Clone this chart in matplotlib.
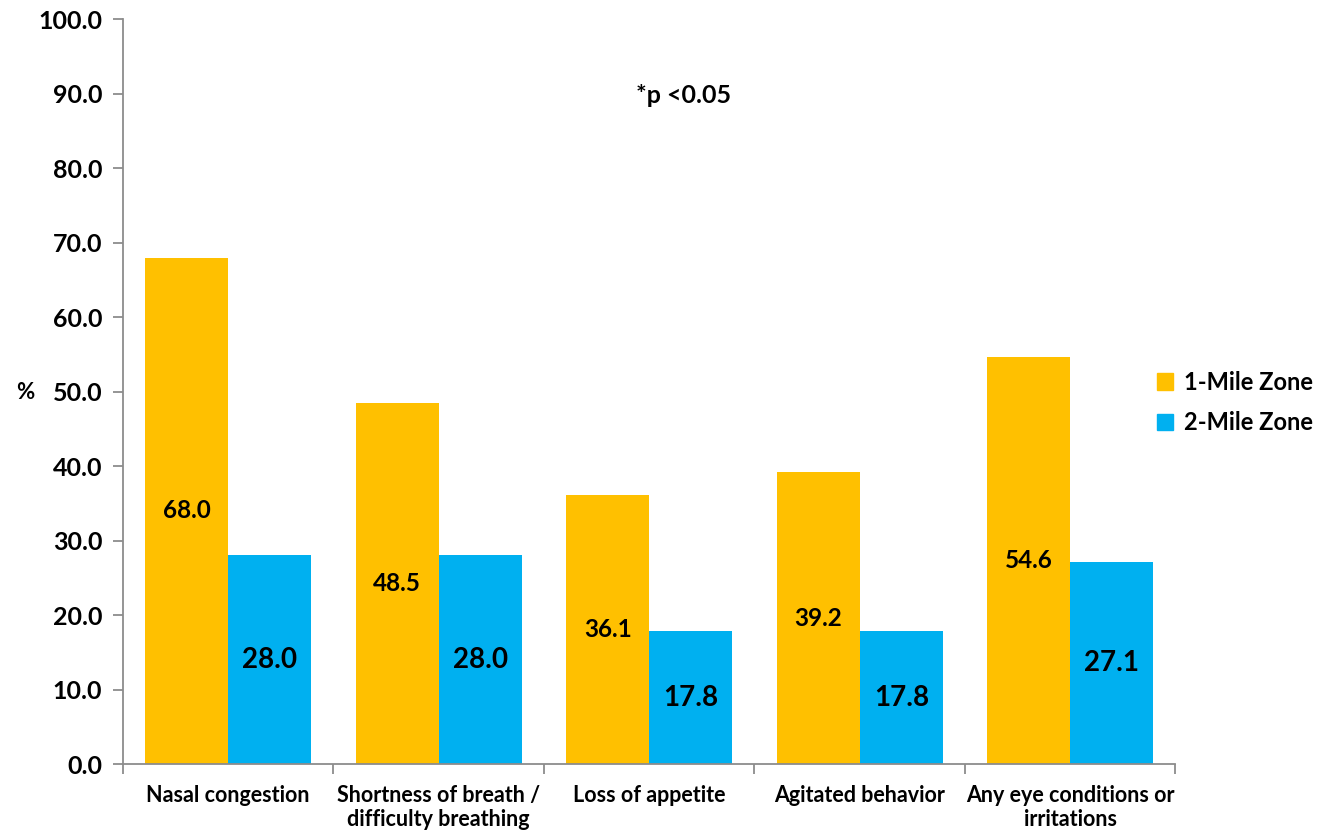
import numpy as np
import matplotlib.pyplot as plt
from matplotlib.patches import Patch

categories = ["Nasal congestion", "Shortness of breath /\ndifficulty breathing",
              "Loss of appetite", "Agitated behavior", "Any eye conditions or\nirritations"]
one_mile = [68.0, 48.5, 36.1, 39.2, 54.6]
two_mile = [28.0, 28.0, 17.8, 17.8, 27.1]
series_names = ["1-Mile Zone", "2-Mile Zone"]

plt.rcParams['font.family'] = ['Lato', 'DejaVu Sans']
plt.rcParams['font.weight'] = 'bold'

yellow = "#FFC000"
blue = "#00B0F0"
grey = "#8c8c8c"

fig = plt.figure(figsize=(13.28, 8.35), dpi=100)
ax = fig.add_axes([0.0926, 0.085, 0.7925, 0.892])

x = np.arange(len(categories))
w = 0.395
b1 = ax.bar(x - w / 2, one_mile, w, color=yellow)
b2 = ax.bar(x + w / 2, two_mile, w, color=blue)

for rect, v in zip(b1, one_mile):
    ax.text(rect.get_x() + rect.get_width() / 2, v / 2, f"{v:.1f}",
            ha="center", va="center", fontsize=17.5, fontweight="bold")
for rect, v in zip(b2, two_mile):
    ax.text(rect.get_x() + rect.get_width() / 2, v / 2, f"{v:.1f}",
            ha="center", va="center", fontsize=20, fontweight="bold")

ax.set_xlim(-0.5, len(categories) - 0.5)
ax.set_ylim(0, 100)
ax.set_yticks(np.arange(0, 101, 10))
ax.set_yticklabels([f"{t:.1f}" for t in np.arange(0, 101, 10)], fontsize=18, fontweight="bold")
ax.set_xticks(x)
ax.set_xticklabels(categories, fontsize=15.5, fontweight="bold", linespacing=1.2)
ax.set_xticks(np.arange(-0.5, len(categories)), minor=True)
ax.tick_params(axis="x", which="major", length=0, pad=15)
ax.tick_params(axis="x", which="minor", length=7, color=grey, width=1.3)
ax.tick_params(axis="y", length=7, color=grey, width=1.3, pad=8)

for side in ["top", "right"]:
    ax.spines[side].set_visible(False)
for side in ["left", "bottom"]:
    ax.spines[side].set_color(grey)
    ax.spines[side].set_linewidth(1.3)

fig.text(0.012, 0.53, "%", fontsize=16, fontweight="bold", ha="left", va="center")
ax.text(2.165, 89.7, "*p <0.05", fontsize=18, fontweight="bold", ha="center", va="center")

handles = [Patch(color=yellow), Patch(color=blue)]
fig.legend(handles, series_names, loc="center left", bbox_to_anchor=(0.862, 0.518),
           frameon=False, handlelength=0.7, handleheight=0.7,
           handletextpad=0.45, labelspacing=0.75, borderpad=0.0,
           prop={"weight": "bold", "size": 17})

fig.savefig("out.png", dpi=100)
